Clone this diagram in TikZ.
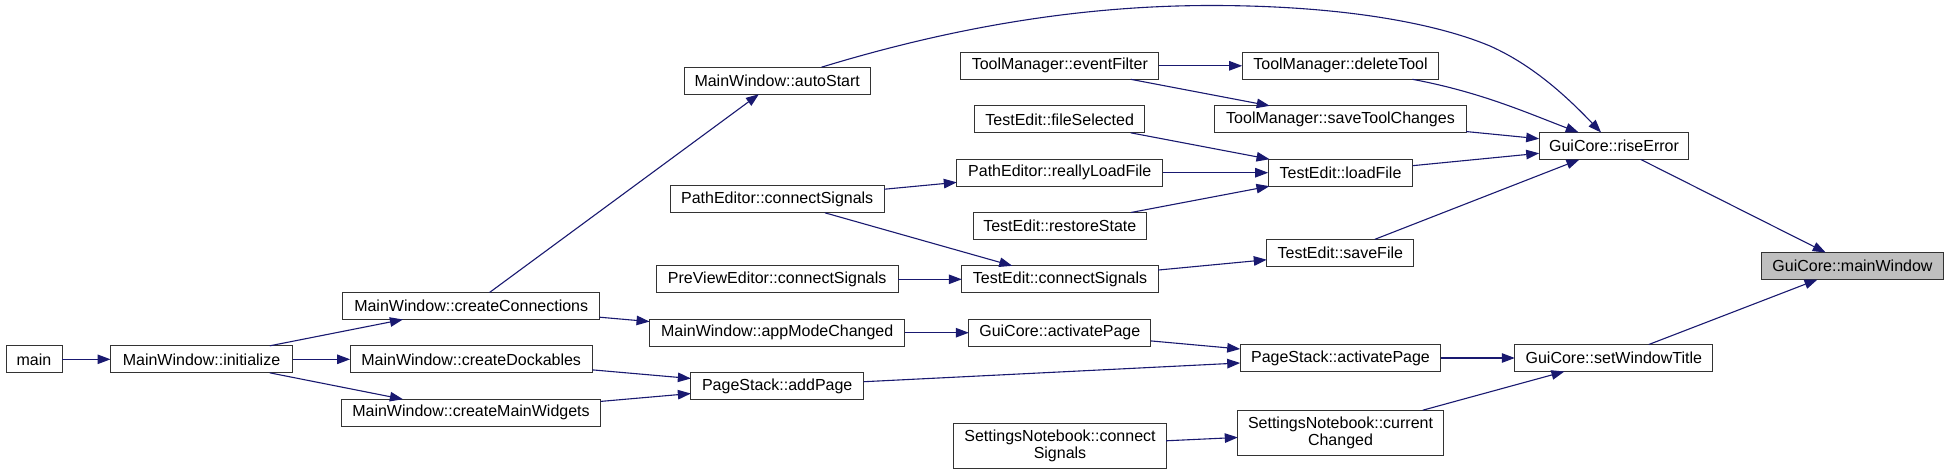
\documentclass[tikz,border=0pt]{standalone}
\usepackage{fontspec}
\setmainfont{Liberation Sans}
\usetikzlibrary{arrows.meta}
\definecolor{edgeblue}{HTML}{191970}
\definecolor{selgray}{HTML}{BFBFBF}
\begin{document}
\begin{tikzpicture}[x=1pt,y=-1pt,
  box/.style={draw=black!80, line width=1pt, fill=white, minimum height=27pt,
    inner sep=0pt, outer sep=0pt, font=\fontsize{16}{17}\selectfont, align=center},
  boxtwo/.style={box, minimum height=45pt},
  edge/.style={draw=edgeblue, line width=1.1pt, -{Triangle[length=13pt,width=9.5pt]}}]
\useasboundingbox[fill=white] (0,0) rectangle (1949,475);

% column 1-2
\node[box, minimum width=56pt] (main) at (34,359.3) {main};
\node[box, minimum width=182pt] (init) at (201.5,359.3) {MainWindow::initialize};
% column 3
\node[box, minimum width=256.6pt] (cconn) at (471.2,306) {MainWindow::createConnections};
\node[box, minimum width=242.2pt] (cdock) at (471.2,359.3) {MainWindow::createDockables};
\node[box, minimum width=259pt] (cwid) at (471,412.7) {MainWindow::createMainWidgets};
% column 4
\node[box, minimum width=186pt] (auto) at (777.2,80.7) {MainWindow::autoStart};
\node[box, minimum width=214pt] (pecs) at (777.2,199.3) {PathEditor::connectSignals};
\node[box, minimum width=242pt] (pvcs) at (777.2,279.3) {PreViewEditor::connectSignals};
\node[box, minimum width=255.3pt] (amc) at (777.2,332.7) {MainWindow::appModeChanged};
\node[box, minimum width=172.7pt] (addp) at (777.2,386) {PageStack::addPage};
% column 5
\node[box, minimum width=198pt] (evf) at (1059.8,65.8) {ToolManager::eventFilter};
\node[box, minimum width=169.7pt] (fsel) at (1059.7,119.3) {TestEdit::fileSelected};
\node[box, minimum width=206pt] (rlf) at (1059.8,172.7) {PathEditor::reallyLoadFile};
\node[box, minimum width=172.7pt] (rst) at (1059.8,226) {TestEdit::restoreState};
\node[box, minimum width=196.4pt] (tecs) at (1060,279.3) {TestEdit::connectSignals};
\node[box, minimum width=182pt] (gap) at (1059.8,332.7) {GuiCore::activatePage};
\node[boxtwo, minimum width=212.4pt] (sncs) at (1060,445.7) {SettingsNotebook::connect\\Signals};
% column 6
\node[box, minimum width=196.6pt] (delt) at (1340.5,65.8) {ToolManager::deleteTool};
\node[box, minimum width=251.4pt] (stc) at (1340.5,119.3) {ToolManager::saveToolChanges};
\node[box, minimum width=144.6pt] (lf) at (1340.5,172.7) {TestEdit::loadFile};
\node[box, minimum width=147pt] (sf) at (1340.3,252.8) {TestEdit::saveFile};
\node[box, minimum width=200.6pt] (psap) at (1340.5,358) {PageStack::activatePage};
\node[boxtwo, minimum width=205.4pt] (cch) at (1340.5,432.7) {SettingsNotebook::current\\Changed};
% column 7
\node[box, minimum width=149.6pt] (rise) at (1614,146) {GuiCore::riseError};
\node[box, minimum width=198pt] (swt) at (1613.8,358) {GuiCore::setWindowTitle};
% column 8
\node[box, fill=selgray, minimum width=182pt] (mw) at (1852.5,266) {GuiCore::mainWindow};

% edges
\draw[edge] (main) -- (init);
\draw[edge] (init) -- (cconn);
\draw[edge] (init) -- (cdock);
\draw[edge] (init) -- (cwid);
\draw[edge] (cconn) -- (auto);
\draw[edge] (cconn) -- (amc);
\draw[edge] (cdock) -- (addp);
\draw[edge] (cwid) -- (addp);
\draw[edge] (auto) .. controls (950,28) and (1080,5) .. (1216,5.5)
  .. controls (1350,6) and (1440,25) .. (1490,46)
  .. controls (1535,66) and (1570,100) .. (rise);
\draw[edge] (evf) -- (delt);
\draw[edge] (evf) -- (stc);
\draw[edge] (fsel) -- (lf);
\draw[edge] (rlf) -- (lf);
\draw[edge] (rst) -- (lf);
\draw[edge] (pecs) -- (rlf);
\draw[edge] (pecs) -- (tecs);
\draw[edge] (pvcs) -- (tecs);
\draw[edge] (tecs) -- (sf);
\draw[edge] (amc) -- (gap);
\draw[edge] (gap) -- (psap);
\draw[edge] (addp) -- (psap);
\draw[edge] (sncs) -- (cch);
\draw[edge] (delt) .. controls (1480,92) and (1525,112) .. (rise);
\draw[edge] (stc) -- (rise);
\draw[edge] (lf) -- (rise);
\draw[edge] (sf) -- (rise);
\draw[edge] (rise) -- (mw);
\draw[edge] (psap) -- (swt);
\draw[edge] (cch) -- (swt);
\draw[edge] (swt) -- (mw);
\end{tikzpicture}
\end{document}
